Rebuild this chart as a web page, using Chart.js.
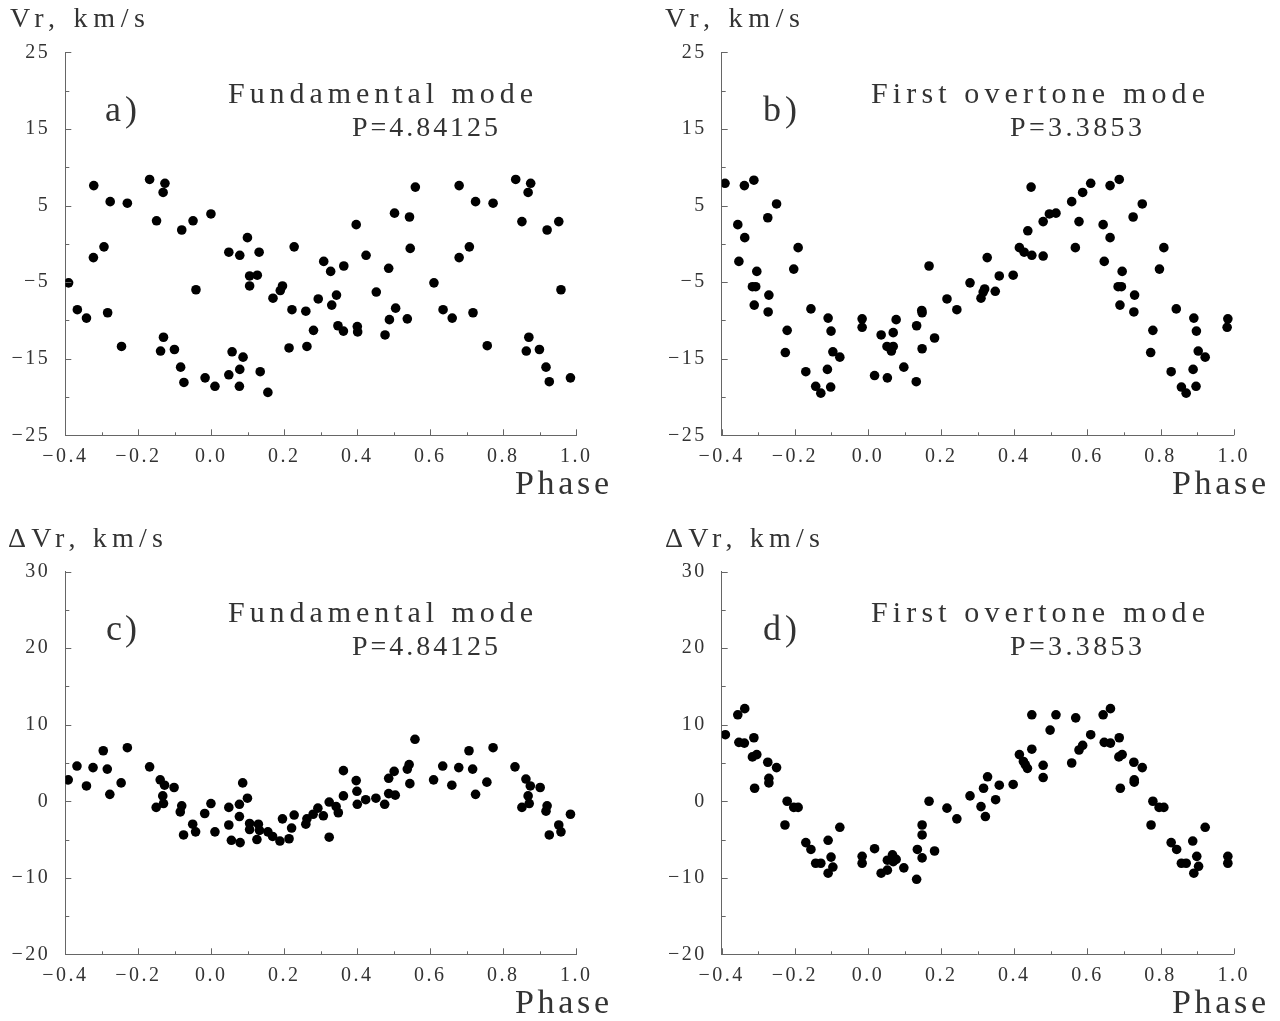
<!DOCTYPE html>
<html><head><meta charset="utf-8">
<script src="https://cdn.jsdelivr.net/npm/chart.js@4.4.1/dist/chart.umd.min.js"></script>
<style>
html,body{margin:0;padding:0;background:#fff;width:1280px;height:1021px;overflow:hidden}
canvas{position:absolute}
</style></head><body>
<canvas id="ca" width="640" height="510" style="left:0px;top:0px"></canvas>
<canvas id="cb" width="640" height="510" style="left:640px;top:0px"></canvas>
<canvas id="cc" width="640" height="510" style="left:0px;top:519px"></canvas>
<canvas id="cd" width="640" height="510" style="left:640px;top:519px"></canvas>
<script>
// ---- Panel a: Vr, fundamental mode ----
const phaseA = [-0.391,-0.367,-0.342,-0.323,-0.322,-0.294,-0.284,-0.277,-0.246,-0.230,-0.169,-0.150,-0.139,-0.132,-0.131,-0.127,-0.101,-0.084,-0.081,-0.075,-0.050,-0.042,-0.017,-0.001,
 0.010,0.048,0.048,0.057,0.077,0.078,0.078,0.087,0.099,0.105,0.105,0.126,0.131,0.134,0.155,0.169,0.189,0.195,0.213,0.221,0.227,0.259,0.262,0.280,0.293,0.308,0.327,0.330,0.343,0.347,0.362,0.363,
 0.397,0.400,0.401,0.424,0.452,0.476,0.486,0.488,0.502,0.505,0.537,0.543,0.545,0.559,0.610,0.635,0.660,0.679,0.679,0.707,0.717,0.724,0.756,0.772,0.834,0.851,0.863,0.868,0.870,0.875,0.899,0.917,0.920,0.926,0.952,0.958,0.984];
const vrA = [-5.1,-8.6,-9.7,-1.8,7.6,-0.4,-9.0,5.5,-13.4,5.3,8.4,3.0,-14.0,6.7,-12.2,7.9,-13.8,-16.1,1.8,-18.1,3.0,-6.0,-17.5,3.9,
 -18.6,-17.1,-1.1,-14.1,-18.6,-16.4,-1.5,-14.8,0.8,-4.2,-5.5,-4.1,-1.1,-16.7,-19.4,-7.1,-6.1,-5.5,-13.6,-8.6,-0.4,-8.8,-13.4,-11.3,-7.2,-2.3,-3.6,-8.0,-6.7,-10.7,-11.4,-2.9,
 2.5,-10.8,-11.5,-1.5,-6.3,-11.9,-3.2,-9.9,4.0,-8.4,-9.8,3.5,-0.6,7.4,-5.1,-8.6,-9.7,-1.8,7.6,-0.4,-9.0,5.5,-13.3,5.3,8.4,2.9,-14.0,6.7,-12.2,7.9,-13.8,-16.1,1.8,-18.0,2.9,-6.0,-17.5];

// ---- Panel b: Vr, first overtone mode ----
const phaseB = [-0.391,-0.356,-0.353,-0.338,-0.337,-0.316,-0.312,-0.311,-0.307,-0.304,-0.274,-0.273,-0.271,-0.250,-0.226,-0.221,-0.203,-0.191,-0.170,-0.156,-0.143,-0.129,-0.111,-0.109,-0.102,-0.101,-0.096,-0.077,-0.016,-0.016,
 0.018,0.036,0.052,0.053,0.064,0.069,0.069,0.077,0.098,0.132,0.133,0.147,0.148,0.148,0.167,0.182,0.216,0.243,0.279,0.309,0.315,0.319,0.326,0.348,0.359,0.397,0.414,0.427,0.437,0.446,0.448,0.479,0.479,0.496,0.514,
 0.557,0.567,0.577,0.587,0.609,0.643,0.646,0.662,0.662,0.684,0.687,0.689,0.693,0.695,0.725,0.727,0.729,0.750,0.773,0.779,0.797,0.809,0.829,0.843,0.857,0.870,0.889,0.891,0.897,0.898,0.903,0.922,0.982,0.984];
const vrB = [7.9,2.5,-2.3,7.6,0.8,-5.6,8.3,-8.0,-5.6,-3.6,3.4,-8.9,-6.7,5.2,-14.2,-11.3,-3.3,-0.5,-16.7,-8.5,-18.6,-19.5,-16.4,-9.7,-18.7,-11.4,-14.1,-14.8,-9.8,-10.9,
 -17.2,-11.9,-13.4,-17.5,-14.0,-11.6,-13.4,-9.9,-16.1,-18.0,-10.7,-8.7,-9.0,-13.7,-2.9,-12.3,-7.2,-8.6,-5.1,-7.1,-6.3,-5.9,-1.8,-6.2,-4.2,-4.1,-0.5,-1.1,1.7,7.4,-1.5,2.9,-1.6,3.9,4.0,
 5.5,-0.5,2.9,6.7,7.9,2.5,-2.3,7.6,0.8,-5.6,8.4,-8.0,-5.6,-3.6,3.5,-8.9,-6.7,5.2,-14.2,-11.3,-3.3,-0.5,-16.7,-8.5,-18.7,-19.5,-16.4,-9.7,-18.6,-11.4,-14.0,-14.8,-10.9,-9.8];

// ---- Panel c: delta Vr, fundamental mode ----
const phaseC = [-0.392,-0.368,-0.342,-0.324,-0.296,-0.285,-0.278,-0.247,-0.230,-0.169,-0.151,-0.140,-0.133,-0.131,-0.128,-0.102,-0.085,-0.081,-0.076,-0.051,-0.043,-0.018,-0.001,
 0.010,0.048,0.048,0.055,0.077,0.077,0.079,0.086,0.099,0.105,0.105,0.125,0.129,0.132,0.155,0.168,0.188,0.195,0.213,0.220,0.227,0.259,0.262,0.279,0.292,0.307,0.323,0.323,0.342,0.348,0.362,0.362,
 0.397,0.399,0.400,0.423,0.451,0.475,0.486,0.486,0.501,0.504,0.537,0.542,0.544,0.558,0.609,0.634,0.659,0.678,0.706,0.716,0.724,0.755,0.772,0.832,0.851,0.862,0.868,0.871,0.874,0.901,0.917,0.920,0.926,0.952,0.958,0.984];
const dvrC = [2.8,4.6,2.0,4.4,6.6,4.2,0.9,2.4,7.0,4.5,-0.8,2.8,0.7,-0.3,2.1,1.8,-1.4,-0.6,-4.4,-3.0,-4.0,-1.6,-0.3,
 -4.0,-0.8,-3.1,-5.1,-0.4,-2.0,-5.4,2.4,0.4,-2.9,-3.7,-5.0,-3.0,-3.8,-4.0,-4.6,-5.2,-2.3,-4.9,-3.5,-1.8,-3.0,-2.3,-1.7,-0.9,-1.9,-0.1,-4.7,-0.7,-1.5,4.0,0.7,
 2.7,1.3,-0.4,0.2,0.4,-0.4,3.0,1.0,3.9,0.8,4.2,4.8,2.3,8.1,2.8,4.6,2.1,4.4,6.6,4.2,0.9,2.5,7.0,4.5,-0.8,2.9,0.7,-0.3,2.0,1.8,-1.3,-0.6,-4.4,-3.1,-4.0,-1.7];

// ---- Panel d: delta Vr, first overtone mode ----
const phaseD = [-0.390,-0.356,-0.353,-0.338,-0.337,-0.316,-0.312,-0.310,-0.304,-0.274,-0.271,-0.271,-0.250,-0.227,-0.221,-0.203,-0.191,-0.170,-0.156,-0.143,-0.129,-0.109,-0.109,-0.101,-0.096,-0.077,-0.016,-0.016,
 0.018,0.036,0.053,0.053,0.067,0.069,0.072,0.077,0.098,0.133,0.135,0.148,0.148,0.148,0.167,0.182,0.216,0.243,0.279,0.309,0.316,0.321,0.327,0.349,0.359,0.397,0.414,0.425,0.430,0.436,0.448,0.448,0.479,0.479,0.498,0.514,
 0.557,0.568,0.577,0.587,0.609,0.643,0.646,0.663,0.663,0.686,0.687,0.690,0.695,0.727,0.728,0.728,0.750,0.774,0.779,0.796,0.809,0.829,0.844,0.857,0.870,0.888,0.891,0.899,0.904,0.922,0.984,0.984];
const dvrD = [8.7,11.3,7.7,7.6,12.1,5.8,8.3,1.7,6.1,5.1,3.0,2.4,4.4,-3.1,0.0,-0.8,-0.8,-5.4,-6.3,-8.1,-8.1,-5.1,-9.4,-7.3,-8.6,-3.4,-7.2,-8.1,
 -6.2,-9.4,-9.0,-7.7,-7.0,-7.9,-7.5,-7.6,-8.7,-10.2,-6.3,-7.4,-4.4,-3.1,0.0,-6.5,-0.9,-2.3,0.7,-0.7,1.7,-2.0,3.2,0.2,2.1,2.2,6.1,5.2,4.8,4.3,11.3,6.8,4.7,3.1,9.3,11.3,
 5.0,10.9,6.7,7.3,8.7,11.3,7.7,12.1,7.6,5.8,8.3,1.7,6.1,5.1,2.8,2.5,4.4,-3.1,0.0,-0.8,-0.8,-5.4,-6.3,-8.1,-8.1,-5.2,-9.4,-7.2,-8.5,-3.4,-7.2,-8.1];

// ---- Texts ----
const yLabels = ['Vr, km/s', 'Vr, km/s', '\u0394Vr, km/s', '\u0394Vr, km/s'];
const panelLetters = ['a)', 'b)', 'c)', 'd)'];
const modeTitles = ['Fundamental mode', 'First overtone mode', 'Fundamental mode', 'First overtone mode'];
const periods = ['P=4.84125', 'P=3.3853', 'P=4.84125', 'P=3.3853'];
const xTitle = 'Phase';
const yRanges = [[-25, 25], [-25, 25], [-20, 30], [-20, 30]];
const xRange = [-0.4, 1.0];

const FONT = '"Liberation Serif", "DejaVu Serif", serif';
const TXT = '#333';
const AXC = '#666';

const panels = [
  {id:'ca', phase:phaseA, vals:vrA, plotL:65.3, plotR:576.3, plotT:52.3, plotB:435.3,
   yLab:[10,145,27], let:[105,137,121], ttl:[228,533,103], per:[352,498,136], ph:[515,609,494]},
  {id:'cb', phase:phaseB, vals:vrB, plotL:81.7, plotR:593.7, plotT:52.3, plotB:435.3,
   yLab:[25,160,27], let:[123,157,121], ttl:[231,565,103], per:[370,502,136], ph:[532,626,494]},
  {id:'cc', phase:phaseC, vals:dvrC, plotL:65.3, plotR:576.3, plotT:52.7, plotB:435.3,
   yLab:[8,163,28], let:[106,137,121], ttl:[228,533,103], per:[352,498,136], ph:[515,609,494]},
  {id:'cd', phase:phaseD, vals:dvrD, plotL:81.7, plotR:593.7, plotT:52.7, plotB:435.3,
   yLab:[25,180,28], let:[123,157,121], ttl:[231,565,103], per:[370,502,136], ph:[532,626,494]}
];

function fmt(v){ return (v < 0 ? '\u2212' : '') + Math.abs(v); }
function fmt1(v){ return (v < 0 ? '\u2212' : '') + Math.abs(v).toFixed(1); }

function fitText(ctx, text, x0, x1, base, size){
  ctx.font = size + 'px ' + FONT;
  ctx.letterSpacing = '0px';
  const w = ctx.measureText(text).width;
  const n = Array.from(text).length;
  const sp = n > 1 ? (x1 - x0 - w) / (n - 1) : 0;
  ctx.letterSpacing = sp + 'px';
  ctx.textAlign = 'left';
  ctx.textBaseline = 'alphabetic';
  ctx.fillStyle = TXT;
  ctx.fillText(text, x0, base);
}

const spacingPlugin = {
  id: 'spacing',
  beforeUpdate(chart){ chart.ctx.letterSpacing = '2.5px'; },
  beforeDraw(chart){ chart.ctx.letterSpacing = '2.5px'; }
};

function makeDecor(idx, p){
  return {
    id: 'decor' + idx,
    afterDraw(chart){
      const ctx = chart.ctx;
      ctx.save();
      ctx.strokeStyle = AXC;
      ctx.lineWidth = 1;
      const xs = chart.scales.x, ys = chart.scales.y;
      const ca = chart.chartArea;
      ctx.beginPath();
      xs.ticks.forEach(t => {
        const px = Math.round(xs.getPixelForValue(t.value)) + 0.5;
        const len = t.label !== '' ? 6 : 3;
        ctx.moveTo(px, ca.bottom); ctx.lineTo(px, ca.bottom - len);
      });
      ys.ticks.forEach(t => {
        const py = Math.round(ys.getPixelForValue(t.value)) + 0.5;
        const len = t.label !== '' ? 6 : 4;
        ctx.moveTo(ca.left, py); ctx.lineTo(ca.left + len, py);
      });
      ctx.stroke();
      fitText(ctx, yLabels[idx], p.yLab[0], p.yLab[1], p.yLab[2], 28);
      fitText(ctx, panelLetters[idx], p.let[0], p.let[1], p.let[2], 36);
      fitText(ctx, modeTitles[idx], p.ttl[0], p.ttl[1], p.ttl[2], 30);
      fitText(ctx, periods[idx], p.per[0], p.per[1], p.per[2], 28);
      fitText(ctx, xTitle, p.ph[0], p.ph[1], p.ph[2], 34);
      ctx.restore();
    }
  };
}

panels.forEach((p, idx) => {
  const yMin = yRanges[idx][0], yMax = yRanges[idx][1];
  const W = 640, H = 510;
  const data = p.phase.map((x, i) => ({x: x, y: p.vals[i]}));
  new Chart(document.getElementById(p.id), {
    type: 'scatter',
    data: { datasets: [{ data: data, pointRadius: 4.8, pointHoverRadius: 4.8,
      backgroundColor: '#000', borderColor: '#000', borderWidth: 0 }] },
    options: {
      responsive: false, animation: false, devicePixelRatio: 1,
      events: [],
      layout: { padding: { left: 0, top: p.plotT, right: W - p.plotR, bottom: 0 } },
      plugins: { legend: {display: false}, tooltip: {enabled: false}, title: {display: false} },
      scales: {
        x: {
          type: 'linear', min: xRange[0], max: xRange[1],
          grid: { display: false },
          border: { display: true, color: AXC, width: 1 },
          ticks: {
            stepSize: 0.1, autoSkip: false, maxRotation: 0, minRotation: 0,
            padding: 1, color: TXT, font: { family: FONT, size: 20 },
            callback: (v) => { const k = Math.round(v * 10); return (k % 2 === 0) ? fmt1(k / 10) : ''; }
          },
          afterFit: (s) => { s.height = H - p.plotB; }
        },
        y: {
          type: 'linear', min: yMin, max: yMax,
          grid: { display: false },
          border: { display: true, color: AXC, width: 1 },
          ticks: {
            stepSize: 5, autoSkip: false, padding: 7, color: TXT,
            font: { family: FONT, size: 20 },
            callback: (v) => { const k = Math.round((v - yMin) / 5); return (k % 2 === 0) ? fmt(v) : ''; }
          },
          afterFit: (s) => { s.width = p.plotL; }
        }
      }
    },
    plugins: [spacingPlugin, makeDecor(idx, p)]
  });
});
</script>
</body></html>
